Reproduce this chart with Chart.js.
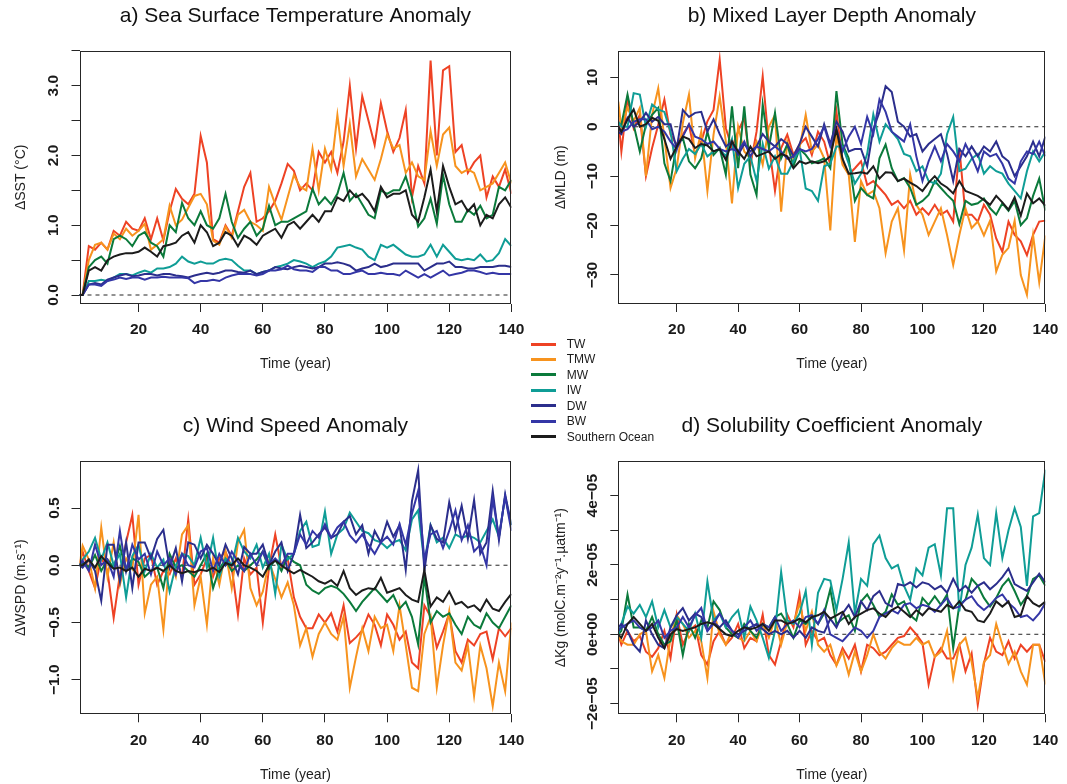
<!DOCTYPE html>
<html>
<head>
<meta charset="utf-8">
<script src="https://cdn.jsdelivr.net/npm/chart.js@4"></script>
<style>
  html, body { margin: 0; padding: 0; background: #fff; }
  #wrap { position: relative; width: 1067px; height: 784px; overflow: hidden;
          font-family: "Liberation Sans", Arial, Helvetica, sans-serif; }
  #wrap canvas { position: absolute; }
  #legend { position: absolute; left: 530px; top: 336px; width: 140px; height: 110px; }
  .lg-row { position: absolute; left: 0; height: 16px; width: 140px; }
  .lg-line { position: absolute; left: 0.7px; top: 6.5px; width: 25.3px; height: 3px; }
  .lg-text { position: absolute; left: 36.7px; top: 0; line-height: 16px; font-size: 12px; color: #1a1a1a; white-space: nowrap; }
</style>
</head>
<body>
<div id="wrap">
  <canvas id="cA" width="533" height="392" style="left:0;top:0;width:533px;height:392px"></canvas>
  <canvas id="cB" width="534" height="392" style="left:533px;top:0;width:534px;height:392px"></canvas>
  <canvas id="cC" width="533" height="392" style="left:0;top:392px;width:533px;height:392px"></canvas>
  <canvas id="cD" width="534" height="392" style="left:533px;top:392px;width:534px;height:392px"></canvas>
  <div id="legend"></div>
</div>
<script>
// ---- simulation years (every second year) ----
const years = [1,2,4,6,8,10,12,14,16,18,20,22,24,26,28,30,32,34,36,38,40,42,44,46,48,50,52,54,56,58,
  60,62,64,66,68,70,72,74,76,78,80,82,84,86,88,90,92,94,96,98,100,102,104,106,108,110,112,114,116,118,
  120,122,124,126,128,130,132,134,136,138,140];

const seriesNames = ['TW','TMW','MW','IW','DW','BW','Southern Ocean'];
const seriesColors = ['#EE4224','#F7931E','#0B7A3B','#0F9D96','#2B2E8C','#3436A6','#1C1C1C'];

const xTickValues = [20,40,60,80,100,120,140];
const xTickLabels = ['20','40','60','80','100','120','140'];

// ---- a) sea surface temperature anomaly (°C) ----
const sstTW = [0,0,0.7,0.65,0.75,0.65,0.92,0.85,1.05,0.95,
  0.92,1.1,0.8,1.1,0.78,1.2,1.52,1.38,1.3,1.45,
  2.28,1.9,0.8,0.75,1.0,0.85,1.2,1.55,1.75,1.05,
  1.1,1.2,1.35,1.6,1.88,1.78,1.5,1.6,1.5,2.05,
  1.9,2.05,1.75,2.2,3.0,2.1,2.85,2.5,2.15,2.75,
  2.35,2.05,2.25,2.65,1.4,1.85,1.6,3.36,2.0,3.22,
  3.28,2.05,2.15,1.75,1.9,2.0,1.4,1.7,1.55,1.8,
  1.45];
const sstTMW = [0,0,0.5,0.72,0.75,0.65,0.88,0.8,0.95,0.85,
  0.92,1.02,0.65,0.72,0.8,1.28,1.0,1.08,1.25,1.42,
  1.45,1.3,0.78,0.72,0.98,0.82,1.15,1.22,1.05,1.0,
  0.92,1.55,1.3,1.08,1.4,1.72,1.55,1.5,2.1,1.5,
  2.1,1.8,2.58,1.85,2.45,1.7,1.95,1.8,1.65,1.95,
  2.3,2.1,2.15,1.75,1.9,1.7,1.65,2.35,1.85,2.3,
  2.4,1.85,1.75,1.8,1.75,1.5,1.55,1.6,1.75,1.9,
  1.6];
const sstMW = [0,0,0.4,0.5,0.55,0.45,0.8,0.85,0.8,0.7,
  0.85,0.9,0.75,0.7,0.55,1.0,0.9,1.32,1.1,1.0,
  1.2,1.0,0.95,1.1,1.45,1.05,0.82,0.95,1.05,0.85,
  0.95,1.28,1.0,1.05,1.05,1.1,1.15,1.2,1.52,1.3,
  1.4,1.3,1.45,1.75,1.35,1.45,1.3,1.15,1.1,1.5,
  1.45,1.5,1.5,1.7,1.4,0.98,1.1,1.38,1.02,1.72,
  1.3,1.05,1.05,1.22,1.15,1.28,1.1,1.15,1.55,1.5,
  1.65];
const sstIW = [0,0,0.2,0.2,0.22,0.2,0.25,0.3,0.3,0.28,
  0.32,0.35,0.32,0.38,0.38,0.4,0.45,0.55,0.48,0.45,
  0.48,0.45,0.45,0.5,0.52,0.5,0.42,0.35,0.35,0.3,
  0.33,0.35,0.4,0.42,0.45,0.5,0.48,0.45,0.4,0.45,
  0.48,0.55,0.68,0.7,0.72,0.68,0.65,0.55,0.5,0.72,
  0.68,0.72,0.65,0.58,0.55,0.55,0.58,0.72,0.55,0.72,
  0.62,0.52,0.5,0.52,0.5,0.58,0.48,0.5,0.6,0.8,
  0.7];
const sstDW = [0,0,0.15,0.17,0.15,0.22,0.25,0.28,0.3,0.27,
  0.28,0.3,0.3,0.28,0.3,0.3,0.28,0.27,0.25,0.28,
  0.3,0.32,0.3,0.32,0.35,0.35,0.33,0.32,0.35,0.3,
  0.33,0.35,0.4,0.38,0.37,0.4,0.42,0.4,0.38,0.4,
  0.45,0.45,0.47,0.45,0.42,0.35,0.38,0.4,0.45,0.4,
  0.42,0.45,0.45,0.45,0.45,0.45,0.35,0.4,0.45,0.45,
  0.48,0.4,0.4,0.38,0.38,0.4,0.4,0.4,0.42,0.42,
  0.4];
const sstBW = [0,0,0.15,0.15,0.13,0.2,0.22,0.25,0.23,0.25,
  0.25,0.22,0.25,0.25,0.26,0.25,0.25,0.25,0.24,0.17,
  0.2,0.2,0.22,0.2,0.25,0.28,0.3,0.3,0.3,0.28,
  0.3,0.35,0.35,0.37,0.42,0.37,0.35,0.35,0.33,0.4,
  0.4,0.35,0.35,0.3,0.3,0.33,0.35,0.3,0.3,0.32,
  0.3,0.3,0.28,0.35,0.3,0.25,0.3,0.25,0.3,0.35,
  0.28,0.3,0.32,0.35,0.35,0.33,0.3,0.32,0.3,0.3,
  0.3];
const sstSO = [0,0,0.35,0.4,0.35,0.5,0.55,0.58,0.6,0.6,
  0.62,0.68,0.62,0.55,0.7,0.72,0.75,0.85,0.9,0.75,
  1.0,0.9,0.7,0.75,0.9,0.85,0.7,0.85,0.8,0.72,
  0.85,0.9,0.95,0.82,1.0,1.05,0.95,1.05,1.15,1.05,
  1.2,1.2,1.4,1.35,1.5,1.4,1.45,1.35,1.2,1.55,
  1.4,1.45,1.45,1.5,1.15,1.05,1.4,1.8,1.2,1.85,
  1.55,1.3,1.35,1.2,1.3,1.0,1.15,1.1,1.3,1.4,
  1.25];

// ---- b) mixed layer depth anomaly (m) ----
const mldTW = [1.8,-5,5.8,-0.3,2.4,-10,-4.3,0.4,5.5,-1.6,
  -3.6,-1.6,0.4,-5.7,-3,1.1,3.4,13.6,-0.3,-4.3,
  -0.9,1.8,-7.7,-1,10.2,-3.6,-13,-4.3,-1.6,-5.7,
  -3.6,-2.3,-5.7,-1,-3,-7.7,3.1,-7,-9.7,-8.4,
  -7,-11.8,-11,-12.4,-13.8,-15.8,-15,-16.5,-15,-17.8,
  -16.5,-17.8,-15.8,-17.8,-17,-19.2,-4.3,-17.8,-17.8,-19.2,
  -15.8,-17.8,-22.6,-25.3,-19.2,-21.9,-23.2,-26,-21.9,-19.2,
  -19];
const mldTMW = [5.1,-0.3,3.8,1.1,3.8,-10,2.4,7.8,-2.3,-12.4,
  -8.4,0.7,6.5,-6.4,-1,-13,-1.6,6.1,-3,-15.5,
  0,-5,-6.4,-3,-7.7,0,2.4,-17.2,-3,-6.4,
  -4.3,2.4,-5,-3.6,-6.4,-21,-1.6,-7.7,-9.7,-23.3,
  -11,-13.8,-13,-16.5,-25.6,-19.2,-16.5,-25,-9.7,-15.8,
  -17.8,-21.9,-19.2,-16.5,-21.9,-28,-21.9,-16.5,-20.5,-19.2,
  -22,-19,-29.3,-25.9,-24.5,-19,-30,-34,-22,-31.5,
  -22];
const mldMW = [0.5,0.4,6.5,0.4,-5,0.4,2.4,3.8,-7.4,-11,
  -3.6,-2.3,-7,-8.4,-6.4,-1,-5.7,-4.3,-9.7,4.1,
  -8.4,4.1,-9.7,-13.8,4.5,-4.3,2.8,-6.4,-3.6,-8,
  -4.5,-5.7,-7.4,-7,-6.4,-8.4,7.2,-3.6,-6.4,-15,
  -12.4,-13.8,-14.5,-6.4,-3.6,-8.4,-11,-10.4,-12.4,-15.8,
  -15,-13.8,-11,-12.4,-13.8,-15,-19.7,-15,-15.8,-15.5,
  -14.5,-16.5,-17.8,-15.5,-17,-15,-19.9,-18.5,-14,-10.5,
  -17];
const mldIW = [1,0,0,6.8,6.5,0,4.5,3.5,3,-1,
  -9,-6.5,-4.5,-5.5,-3.5,-6,-5,-4.5,-6,-2.5,
  -12.4,-7.5,-6,-11,-3.5,-8.5,-6,-9.5,-9.5,-7,
  -4.5,-12.5,-13,-15,-8,-7.5,-4,-4,-7.5,-11.5,
  -9.5,-5.5,2.5,-3,0.5,-1,-2.5,-5.5,-6,-9,
  -8,-11,-11.5,-9.5,-1.5,2,-9,-8.5,-6.5,-5.5,
  -9.5,-8,-9,-9.5,-11.5,-13,-14.5,-9,-5,-7,
  -5];
const mldDW = [-1,-1.5,1.8,0,1,2.8,1,2,0.5,0.5,
  -4.5,3.4,2,2.8,3,-1,1.5,-1.5,-4,-3,
  -5.7,-3.5,-5,-4,-1.5,-3,-4,-2.5,-3.5,-6,
  -3.5,0,-2,-4,0.5,-3.5,1,-1,-5,-4.5,
  -4.5,-8,-0.5,3,8.2,7,1,0,-2,-1.5,
  -5,-3.5,-2.5,-1.5,-5.5,-11,-4.5,-6,-4,-6,
  -4,-5,-3,-6,-7,-10,-8,-6,-3,-6,
  -2];
const mldBW = [0,-1,-0.5,1,1.5,1.5,-0.5,0,-1,-3,
  -4.5,-2,0.5,-2,-2.5,-3.5,-3,-4.5,-5,-4.5,
  -5,-3,-6,-4,-4.5,-5,-4,-5,-6.5,-6,
  -4.5,-5,-4.5,-2.5,0,-4,-0.5,-5,-2,0,
  -3.5,2,-1.5,5.5,3,-1,-2,-3,0.5,-6,
  -11,-7,-4,-7,-3.5,-5,-7,-3.5,-6,-9,
  -5,-6,-5.5,-7.5,-10.5,-11.5,-7,-5,-5.5,-3,
  -6];
const mldSO = [0,-1,1.5,3.5,0,0.5,1.8,1.2,-2.5,-6.5,
  -4,-2,-2.5,-4.3,-3.5,-3.8,-5,-4.5,-6.7,-3,
  -5,-6.5,-4,-6,-5.5,-5,-6.5,-5.5,-6,-8.4,
  -7,-7.5,-7,-7.4,-7,-6,-0.5,-6.5,-9.5,-9.4,
  -9.2,-9.5,-8,-10.5,-9.2,-9.3,-11,-10.5,-11.3,-12,
  -13,-11.3,-10,-11.5,-12.3,-13.5,-11,-13,-13.5,-14,
  -14.8,-15.8,-14,-15.3,-16.8,-14.3,-18,-13.5,-15.5,-14.5,
  -16];

// ---- c) wind speed anomaly (m/s) ----
const wsTW = [0,0.12,-0.05,-0.2,0.07,-0.05,-0.46,-0.08,0.2,0.44,
  -0.17,0.06,0.09,-0.17,-0.05,-0.08,0.06,-0.1,0.4,-0.17,
  -0.08,0.06,-0.1,0.06,0.12,-0.02,-0.43,0.06,-0.08,-0.02,
  -0.5,-0.02,0.27,-0.02,0.06,-0.28,-0.45,-0.55,-0.55,-0.43,
  -0.5,-0.42,-0.58,-0.35,-0.68,-0.63,-0.57,-0.43,-0.52,-0.7,
  -0.43,-0.52,-0.65,-0.58,-0.85,-0.9,-0.35,-0.45,-0.72,-0.58,
  -0.42,-0.75,-0.85,-0.65,-0.7,-0.6,-0.58,-0.82,-0.55,-0.62,
  -0.55];
const wsTMW = [0,0.17,0.05,-0.2,0.33,-0.1,0.2,-0.17,0.06,-0.03,
  0.44,-0.42,-0.17,-0.1,-0.56,0.06,-0.1,0.27,0.35,-0.35,
  -0.1,-0.52,0.06,-0.17,0.12,-0.2,0.2,0.31,-0.2,-0.35,
  -0.23,0.03,-0.12,-0.28,-0.15,-0.35,-0.7,-0.55,-0.8,-0.6,
  -0.5,-0.6,-0.65,-0.45,-1.07,-0.8,-0.55,-0.75,-0.45,-0.55,
  -0.52,-0.75,-0.35,-0.7,-1.07,-1.1,-0.6,-0.45,-1.07,-0.7,
  -0.4,-0.85,-0.92,-0.7,-1.14,-0.7,-0.9,-1.23,-0.85,-1.1,
  -0.5];
const wsMW = [0,0.03,-0.02,0.09,-0.05,0.05,-0.02,0.17,-0.05,0.06,
  0.03,-0.1,-0.05,-0.02,-0.2,0.1,-0.02,0.0,-0.05,-0.1,
  0.0,0.1,-0.2,-0.03,0.05,-0.05,0.0,-0.05,0.0,0.05,
  0.12,-0.03,0.05,-0.05,0.08,0.03,0.0,-0.17,-0.22,-0.25,
  -0.2,-0.18,-0.2,-0.25,-0.32,-0.4,-0.32,-0.26,-0.2,-0.26,
  -0.32,-0.26,-0.38,-0.32,-0.45,-0.69,-0.1,-0.5,-0.4,-0.45,
  -0.42,-0.52,-0.6,-0.45,-0.52,-0.55,-0.42,-0.5,-0.55,-0.45,
  -0.35];
const wsIW = [0,0.05,0.12,0.24,0.05,0.2,0.0,0.1,-0.28,0.08,
  0.18,-0.05,0.1,-0.02,0.05,-0.23,0.0,0.1,0.08,0.0,
  0.24,-0.02,0.24,-0.1,0.06,0.0,0.24,0.12,0.06,0.18,
  -0.02,0.1,-0.25,0.18,0.05,0.1,0.3,0.38,0.16,0.18,
  0.47,0.1,0.27,0.32,0.46,0.38,0.3,0.28,0.22,0.2,
  0.15,0.2,0.22,0.13,0.4,0.48,0.02,0.35,0.2,0.24,
  0.15,0.27,0.24,0.26,0.24,0.2,0.3,0.4,0.25,0.6,
  0.35];
const wsDW = [0,-0.02,0.05,-0.05,-0.31,0.18,0.18,-0.14,0.2,-0.2,
  0.2,0.2,0.06,0.23,0.31,-0.02,0.15,-0.14,0.2,0.18,
  0.06,0.18,0.1,0.0,0.18,0.06,-0.08,0.16,0.1,0.1,
  0.18,0.0,0.12,0.2,-0.05,0.1,0.44,0.15,0.2,0.27,
  0.33,0.24,0.27,0.38,0.43,0.27,0.35,0.1,0.3,0.2,
  0.38,0.25,0.35,-0.04,0.56,0.83,-0.05,0.35,0.23,0.2,
  0.55,0.3,0.52,0.23,0.57,0.1,0.2,0.65,0.22,0.62,
  0.35];
const wsBW = [0,0.04,-0.05,0.18,0.0,0.05,-0.1,0.3,-0.05,0.18,
  0.05,0.1,-0.08,0.12,0.0,0.06,-0.08,0.1,0.0,-0.02,
  0.12,0.15,-0.05,0.1,0.0,0.12,0.03,-0.05,0.1,0.0,
  0.12,0.0,0.06,0.0,0.1,0.1,0.27,0.18,0.3,0.24,
  0.36,0.24,0.33,0.38,0.26,0.2,0.27,0.18,0.1,0.2,
  0.25,0.18,0.36,0.18,0.45,0.65,0.05,0.27,0.3,0.15,
  0.3,0.48,0.22,0.35,0.12,0.18,0.0,0.58,0.25,0.6,
  0.3];
const wsSO = [0,0.0,0.05,-0.02,0.08,0.02,-0.03,-0.02,-0.05,-0.02,
  -0.1,-0.03,-0.05,-0.02,-0.05,0.0,-0.05,-0.07,-0.05,-0.06,
  -0.04,-0.05,-0.02,-0.06,0.02,0.0,0.06,0.0,-0.02,-0.05,
  -0.1,0.0,0.04,0.0,-0.04,-0.07,-0.04,-0.07,-0.1,-0.14,
  -0.16,-0.13,-0.18,-0.05,-0.2,-0.26,-0.22,-0.2,-0.21,-0.11,
  -0.24,-0.22,-0.2,-0.26,-0.3,-0.32,-0.04,-0.36,-0.28,-0.32,
  -0.23,-0.34,-0.32,-0.37,-0.35,-0.4,-0.3,-0.38,-0.4,-0.32,
  -0.25];

// ---- d) solubility coefficient anomaly, in units of 1e-5 molC m-2 y-1 uatm-1 ----
const kgTW = [0,-0.3,0.1,-0.2,-0.05,-0.5,-0.65,-0.4,0.1,-0.68,
  0.57,-0.3,0.1,0.25,-0.6,-0.87,-0.2,0.1,-0.3,-0.1,
  0.3,-0.4,-0.1,-0.2,0.57,-0.6,-0.87,-0.2,0.57,0.2,
  1.15,-0.3,0.1,-0.2,-0.1,-0.6,-0.88,-0.4,-0.7,-0.3,
  -1.07,-0.3,-0.4,-0.6,-0.5,-0.3,-0.1,-0.05,0.2,0.0,
  -0.25,-1.45,-0.65,-0.4,-0.7,-0.7,-0.3,-1.07,-0.55,-2.03,
  -0.85,-0.1,-0.5,-0.6,-0.2,-0.7,-0.3,-0.5,-0.3,-0.3,
  -0.8];
const kgTMW = [0,-0.2,-0.3,-0.3,0.0,0.1,-1.07,-0.6,-1.26,-0.1,
  0.55,0.3,-0.1,0.1,-0.2,-1.26,0.66,0.0,-0.3,0.1,
  -0.1,-0.2,0.1,-0.2,0.3,-0.1,0.45,-0.3,0.35,0.3,
  0.9,0.1,0.65,-0.3,-0.5,-0.3,-0.9,-0.5,-1.16,-0.5,
  -1.07,-0.6,0.0,-0.5,-0.7,-0.4,-0.2,-0.3,-0.3,-0.1,
  -0.3,-0.2,-0.65,-0.5,0.1,-1.26,-0.3,-0.1,-0.8,-1.84,
  -0.8,-0.6,0.3,-0.3,-0.85,-0.5,-1.07,-1.45,-0.3,-0.3,
  -1.45];
const kgMW = [0,0.1,1.15,0.2,0.2,0.1,0.5,0.0,-0.3,-0.2,
  0.4,-0.6,0.3,-0.1,0.4,0.2,0.95,0.7,0.2,0.0,
  -0.1,0.3,0.1,-0.1,0.3,0.2,0.5,0.6,0.3,-0.1,
  0.4,0.3,0.5,0.3,0.6,1.3,0.3,0.45,0.55,0.1,
  0.95,1.15,0.85,0.5,0.65,1.15,0.85,0.95,0.55,0.4,
  1.05,0.85,1.1,0.85,1.15,-0.4,0.85,1.0,1.6,1.4,
  1.05,0.8,1.05,1.4,1.6,1.25,0.85,1.1,1.6,1.7,
  1.4];
const kgIW = [0,0.3,0.8,0.6,0.85,0.5,0.95,0.2,0.7,0.2,
  0.5,0.3,0.1,0.6,-0.1,1.53,0.4,0.6,0.2,0.5,
  0.7,-0.1,0.8,0.4,-0.1,-0.68,0.1,1.8,0.4,0.3,
  0.6,1.25,-0.3,1.2,1.6,1.55,0.7,1.6,2.65,0.6,
  1.6,1.4,2.6,2.85,2.2,1.9,2.0,1.4,1.0,1.9,
  1.7,2.5,2.6,1.7,3.64,3.64,0.66,2.0,2.5,3.45,
  2.2,2.0,3.5,2.2,3.0,3.64,3.1,1.4,3.4,3.5,
  4.75];
const kgDW = [0.2,0.3,0.1,-0.3,-0.5,0.4,0.0,-0.3,-0.4,0.2,
  0.55,0.76,0.4,0.6,0.5,0.1,0.35,0.2,0.4,0.1,
  0.0,0.1,0.2,0.3,0.15,0.0,0.1,0.0,0.1,-0.1,
  0.1,-0.1,0.2,0.1,0.05,0.45,0.2,0.6,0.85,0.5,
  0.95,0.7,1.1,1.25,0.9,0.8,1.45,1.4,1.5,1.35,
  1.5,1.45,1.3,1.4,1.2,1.6,1.25,1.4,1.2,1.4,
  1.5,1.3,1.45,1.65,1.9,1.45,1.35,1.25,1.5,1.75,
  1.5];
const kgBW = [0.1,0.2,0.3,0.4,0.2,0.1,0.2,0.4,-0.1,0.1,
  0.2,0.5,0.2,0.55,0.76,0.1,0.3,0.6,0.3,0.1,
  -0.1,0.2,0.4,0.1,0.3,0.2,0.5,0.1,0.3,0.4,
  0.2,0.5,0.55,0.3,0.7,0.0,-0.1,-0.2,0.0,0.2,
  0.1,-0.1,0.1,0.5,0.6,0.7,0.6,0.85,0.9,0.75,
  0.85,0.8,0.65,0.85,1.05,0.75,0.8,1.0,1.1,0.85,
  0.7,0.85,1.05,1.15,0.9,0.75,0.5,0.55,0.4,0.6,
  0.9];
const kgSO = [0,-0.1,0.3,0.5,0.3,0.1,0.3,-0.1,-0.4,0.0,
  0.15,0.1,0.15,0.2,0.3,0.35,0.3,0.15,0.0,-0.05,
  0.1,0.2,0.15,0.2,0.3,0.1,0.4,0.4,0.3,0.35,
  0.45,0.35,0.5,0.55,0.65,0.45,0.55,0.65,0.3,0.5,
  0.6,0.7,0.75,0.6,0.5,0.7,0.8,0.65,0.5,0.7,
  0.55,0.75,0.7,0.65,0.85,0.75,0.95,0.7,0.65,0.4,
  0.35,0.6,0.95,0.8,0.95,0.5,0.55,1.1,0.9,0.8,
  0.95];

// ---- y-axis ticks and labels ----
const sstTicks = [0,0.5,1,1.5,2,2.5,3,3.5];
const sstTickLabels = ['0.0','','1.0','','2.0','','3.0',''];
const mldTicks = [-30,-20,-10,0,10];
const mldTickLabels = ['\u221230','\u221220','\u221210','0','10'];
const wsTicks = [-1,-0.5,0,0.5];
const wsTickLabels = ['\u22121.0','\u22120.5','0.0','0.5'];
const kgTicks = [-2e-5,-1e-5,0,1e-5,2e-5,3e-5,4e-5];
const kgTickLabels = ['\u22122e\u221205','','0e+00','','2e\u221205','','4e\u221205'];

// ---- drawing ----
const FONT = '"Liberation Sans", Arial, Helvetica, sans-serif';
const TICK_LEN = 8;
const TICK_FONT = { family: FONT, size: 15.5, weight: 'bold' };
const AXIS_TITLE_FONT = { family: FONT, size: 14 };
Chart.defaults.font.family = FONT;

// panel title plus the closed box around the plotting region
const panelFrame = {
  id: 'panelFrame',
  afterDraw(chart, args, opts) {
    const { ctx, chartArea: a } = chart;
    ctx.save();
    ctx.strokeStyle = '#262626';
    ctx.lineWidth = 1;
    const l = Math.round(a.left) + 0.5, t = Math.round(a.top) + 0.5;
    const r = Math.round(a.right) - 0.5, b = Math.round(a.bottom) - 0.5;
    ctx.strokeRect(l, t, r - l, b - t);
    ctx.fillStyle = '#111';
    ctx.font = '21px ' + FONT;
    ctx.textAlign = 'center';
    ctx.textBaseline = 'middle';
    ctx.fillText(opts.title, (a.left + a.right) / 2, opts.titleY);
    ctx.restore();
  }
};

function labelPadding(labels, yw, centerX) {
  const c = document.createElement('canvas').getContext('2d');
  c.font = 'bold 15.5px ' + FONT;
  const widest = Math.max(...labels.map(s => c.measureText(s).width));
  return yw - TICK_LEN - centerX - widest / 2;
}

function buildPanel(p) {
  const datasets = p.series.map((vals, i) => ({
    label: seriesNames[i],
    data: vals.map((v, j) => ({ x: years[j], y: v * p.unit })),
    borderColor: seriesColors[i],
    borderWidth: 2,
    pointRadius: 0,
    fill: false,
    order: 10 - i
  }));
  datasets.push({
    label: 'zero',
    data: [{ x: years[0], y: 0 }, { x: years[years.length - 1], y: 0 }],
    borderColor: '#4a4a4a',
    borderWidth: 1.2,
    borderDash: [4, 4],
    pointRadius: 0,
    order: 30
  });

  new Chart(document.getElementById(p.id), {
    type: 'line',
    data: { datasets },
    options: {
      responsive: false,
      animation: false,
      devicePixelRatio: 1,
      events: [],
      layout: { padding: { left: 0, top: p.top, right: p.right, bottom: 0 } },
      plugins: {
        legend: { display: false },
        tooltip: { enabled: false },
        panelFrame: { title: p.title, titleY: p.titleY }
      },
      scales: {
        x: {
          type: 'linear', min: 1, max: 140,
          afterBuildTicks: s => { s.ticks = xTickValues.map(v => ({ value: v })); },
          afterFit: s => { s.height = p.xh; },
          ticks: { font: TICK_FONT, color: '#1a1a1a', padding: 8.7, autoSkip: false,
                   minRotation: 0, maxRotation: 0, callback: (v, i) => xTickLabels[i] },
          grid: { drawOnChartArea: false, drawTicks: true, tickLength: TICK_LEN, color: '#262626', lineWidth: 1 },
          border: { display: false },
          title: { display: true, text: 'Time (year)', font: AXIS_TITLE_FONT, color: '#222',
                   padding: { top: 0, bottom: p.xTitlePad } }
        },
        y: {
          type: 'linear', min: p.ymin, max: p.ymax,
          afterBuildTicks: s => { s.ticks = p.yTicks.map(v => ({ value: v })); },
          afterFit: s => { s.width = p.yw; },
          ticks: { font: TICK_FONT, color: '#1a1a1a', autoSkip: false,
                   minRotation: 90, maxRotation: 90, crossAlign: 'center',
                   padding: labelPadding(p.yLabels, p.yw, p.yLabelX),
                   callback: (v, i) => p.yLabels[i] },
          grid: { drawOnChartArea: false, drawTicks: true, tickLength: TICK_LEN, color: '#262626', lineWidth: 1 },
          border: { display: false },
          title: { display: true, text: p.yTitle, font: AXIS_TITLE_FONT, color: '#222',
                   padding: { top: p.yTitleX - 8.4, bottom: 0 } }
        }
      }
    },
    plugins: [panelFrame]
  });
}

buildPanel({ id: 'cA', series: [sstTW, sstTMW, sstMW, sstIW, sstDW, sstBW, sstSO], unit: 1,
  title: 'a) Sea Surface Temperature Anomaly', titleY: 16.7,
  top: 50.7, right: 19.9, yw: 79.5, xh: 88, xTitlePad: 19.6,
  ymin: -0.129, ymax: 3.502, yTicks: sstTicks, yLabels: sstTickLabels, yLabelX: 53.4,
  yTitle: '\u0394SST (\u00B0C)', yTitleX: 21.3 });

buildPanel({ id: 'cB', series: [mldTW, mldTMW, mldMW, mldIW, mldDW, mldBW, mldSO], unit: 1,
  title: 'b) Mixed Layer Depth Anomaly', titleY: 16.7,
  top: 50.7, right: 15.5, yw: 85.3, xh: 88, xTitlePad: 19.6,
  ymin: -35.87, ymax: 15.38, yTicks: mldTicks, yLabels: mldTickLabels, yLabelX: 59.4,
  yTitle: '\u0394MLD (m)', yTitleX: 28.4 });

buildPanel({ id: 'cC', series: [wsTW, wsTMW, wsMW, wsIW, wsDW, wsBW, wsSO], unit: 1,
  title: 'c) Wind Speed Anomaly', titleY: 34.7,
  top: 69, right: 19.9, yw: 79.5, xh: 69.7, xTitlePad: 0.6,
  ymin: -1.302, ymax: 0.911, yTicks: wsTicks, yLabels: wsTickLabels, yLabelX: 54.5,
  yTitle: '\u0394WSPD (m.s\u207B\u00B9)', yTitleX: 21.3 });

buildPanel({ id: 'cD', series: [kgTW, kgTMW, kgMW, kgIW, kgDW, kgBW, kgSO], unit: 1e-5,
  title: 'd) Solubility Coefficient Anomaly', titleY: 34.7,
  top: 69, right: 15.5, yw: 85.3, xh: 69.7, xTitlePad: 0.6,
  ymin: -2.307e-5, ymax: 5.0e-5, yTicks: kgTicks, yLabels: kgTickLabels, yLabelX: 60,
  yTitle: '\u0394Kg (molC.m\u207B\u00B2y\u207B\u00B9.\u00B5atm\u207B\u00B9)', yTitleX: 28.4 });

// shared legend between the panels
const legendBox = document.getElementById('legend');
seriesNames.forEach((name, i) => {
  const row = document.createElement('div');
  row.className = 'lg-row';
  row.style.top = (i * 15.43) + 'px';
  const line = document.createElement('div');
  line.className = 'lg-line';
  line.style.background = seriesColors[i];
  const txt = document.createElement('span');
  txt.className = 'lg-text';
  txt.textContent = name;
  row.appendChild(line);
  row.appendChild(txt);
  legendBox.appendChild(row);
});
</script>
</body>
</html>
